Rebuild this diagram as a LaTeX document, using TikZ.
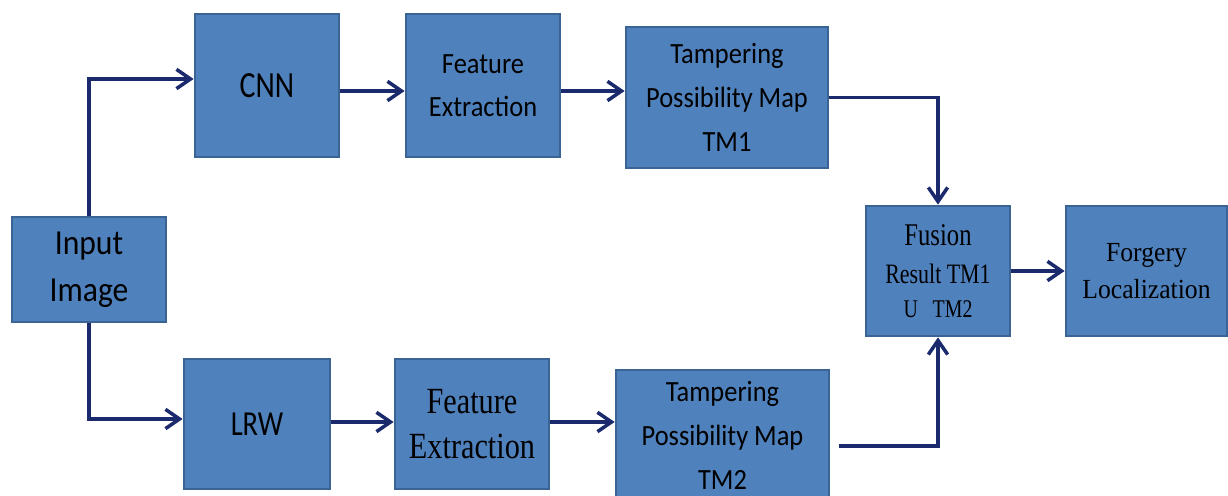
\documentclass[tikz,border=0pt]{standalone}
\usepackage{fontspec}
\setmainfont[FakeStretch=0.9]{Carlito}
\newfontfamily\sanstall[FakeStretch=0.81]{Carlito}
\newfontfamily\serifcond[FakeStretch=0.82]{Liberation Serif}
\newfontfamily\serifnarrow[FakeStretch=0.78]{Liberation Serif}
\newfontfamily\serifplain[FakeStretch=0.93]{Liberation Serif}
\usetikzlibrary{arrows.meta}
\definecolor{boxblue}{HTML}{4F81BD}
\definecolor{boxedge}{HTML}{3A6494}
\definecolor{navy}{HTML}{1A2A6C}

\begin{document}
\begin{tikzpicture}[x=0.02cm,y=-0.02cm,
    block/.style={fill=boxblue, draw=boxedge, line width=1.6pt, align=center, inner sep=0pt},
    flow/.style={draw=navy, line width=2pt, -{Straight Barb[length=8pt,width=11pt]}}]

    \useasboundingbox (0,0) rectangle (1228,496);

    % Input
    \node[block, minimum width=3.08cm, minimum height=2.1cm,
        font=\fontsize{20}{27}\selectfont] (in) at (89,269.5) {Input\\Image};

    % Upper branch
    \node[block, minimum width=2.88cm, minimum height=2.86cm,
        font=\sanstall\fontsize{21}{24}\selectfont] (cnn) at (267,85.5) {CNN};
    \node[block, minimum width=3.08cm, minimum height=2.86cm,
        font=\fontsize{16.7}{24.5}\selectfont] (fe1) at (483,85.5) {Feature\\Extraction};
    \node[block, minimum width=4.04cm, minimum height=2.82cm,
        font=\fontsize{16.7}{25}\selectfont] (tm1) at (727,97.5) {Tampering\\Possibility Map\\TM1};

    % Lower branch
    \node[block, minimum width=2.92cm, minimum height=2.6cm,
        font=\sanstall\fontsize{20}{24}\selectfont] (lrw) at (257,424) {LRW};
    \node[block, minimum width=3.08cm, minimum height=2.6cm,
        font=\serifcond\fontsize{21}{26}\selectfont] (fe2) at (472,424) {Feature\\Extraction};
    \node[block, minimum width=4.26cm, minimum height=2.6cm,
        font=\fontsize{16.7}{25}\selectfont] (tm2) at (722.5,435) {Tampering\\Possibility Map\\TM2};

    % Fusion and output
    \node[block, minimum width=2.88cm, minimum height=2.6cm,
        font=\serifnarrow\fontsize{16}{22}\selectfont] (fus) at (938,271) {
        {\fontsize{18}{22}\selectfont Fusion}\\Result TM1\\[-3pt]{\fontsize{14.5}{15}\selectfont U~~~TM2}};
    \node[block, minimum width=3.22cm, minimum height=2.6cm,
        font=\serifplain\fontsize{15.7}{21.5}\selectfont] (forg) at (1146.5,271) {Forgery\\Localization};

    % Connectors
    \draw[flow] (in.north) |- (cnn.west |- 0,79);
    \draw[flow] (in.south) |- (lrw.west |- 0,419);
    \draw[flow] (cnn.east |- 0,91) -- (fe1.west |- 0,91);
    \draw[flow] (fe1.east |- 0,91) -- (tm1.west |- 0,91);
    \draw[flow] (lrw.east |- 0,422) -- (fe2.west |- 0,422);
    \draw[flow] (fe2.east |- 0,422) -- (tm2.west |- 0,422);
    \draw[flow] (tm1.east) -| (fus.north);
    \draw[flow, shorten <=5pt] (tm2.east |- 0,446) -| (fus.south);
    \draw[flow] (fus.east) -- (forg.west);
\end{tikzpicture}
\end{document}
